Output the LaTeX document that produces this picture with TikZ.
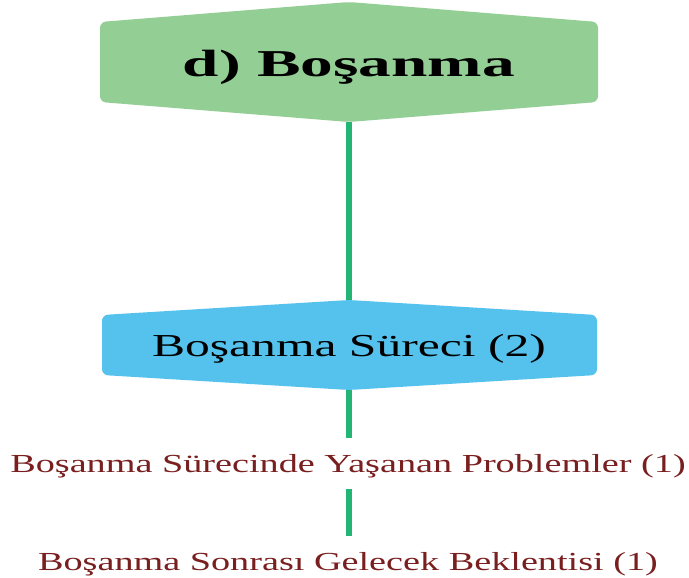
\documentclass[tikz,border=0pt]{standalone}
\usepackage{fontspec}
\setmainfont{Liberation Serif}
\newfontfamily\titlefont[FakeStretch=1.72]{Liberation Serif}
\newfontfamily\boxfont[FakeStretch=1.55]{Liberation Serif}
\newfontfamily\leaffont[FakeStretch=1.47]{Liberation Serif}
\definecolor{topgreen}{HTML}{93CE95}
\definecolor{boxblue}{HTML}{55C2EE}
\definecolor{linegreen}{HTML}{22B573}
\definecolor{leafred}{HTML}{7A1F1F}
\tikzset{
  connector/.style={draw=linegreen, line width=6.5pt},
  hexshape/.style={rounded corners=6pt},
  leaf/.style={anchor=base, text=leafred, font=\leaffont\fontsize{26}{26}\selectfont,
    inner xsep=0pt, inner ysep=17pt, text height=17pt, text depth=0pt},
}
\begin{document}
\begin{tikzpicture}[x=1pt, y=-1pt]
\useasboundingbox (0,0) rectangle (689,578);
\fill[white] (0,0) rectangle (689,578);
% top hexagon
\fill[topgreen, hexshape] (349,2) -- (598,22) -- (598,102) -- (349,122) -- (100,102) -- (100,22) -- cycle;
\node[anchor=base, font=\titlefont\bfseries\fontsize{38}{38}\selectfont, inner sep=0pt] (title) at (349,77) {d) Boşanma};
% blue hexagon
\fill[boxblue, hexshape] (349,300) -- (597,315) -- (597,375) -- (349,390) -- (102,375) -- (102,315) -- cycle;
\node[anchor=base, font=\boxfont\fontsize{32}{32}\selectfont, inner sep=0pt] (box) at (349,356) {Boşanma Süreci (2)};
\coordinate (gbot) at (349,122);
\coordinate (btop) at (349,300);
\coordinate (bbot) at (349,390);
\node[leaf] (leafa) at (348,472) {Boşanma Sürecinde Yaşanan Problemler (1)};
\node[leaf] (leafb) at (348,570) {Boşanma Sonrası Gelecek Beklentisi (1)};
\draw[connector] (gbot) -- (btop);
\draw[connector] (bbot) -- (leafa.north -| bbot);
\draw[connector] (leafa.south -| bbot) -- (leafb.north -| bbot);
\end{tikzpicture}
\end{document}
